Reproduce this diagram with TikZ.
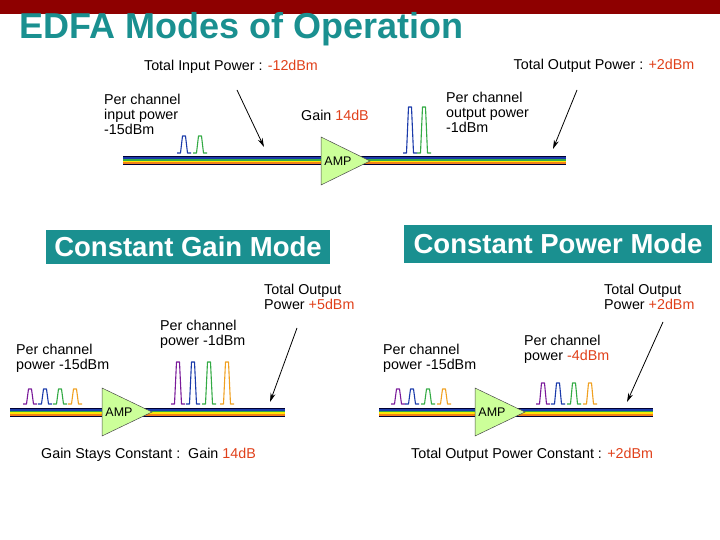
\documentclass[tikz,border=0pt]{standalone}
\usepackage{fontspec}
\setmainfont{Liberation Sans}
\usetikzlibrary{arrows.meta}
\definecolor{barred}{HTML}{8E0000}
\definecolor{teal1}{HTML}{1A9090}
\definecolor{valred}{HTML}{E0401A}
\definecolor{ampfill}{HTML}{CCFF99}
\definecolor{pk1}{HTML}{7A1A9A}
\definecolor{pk2}{HTML}{1A3AAA}
\definecolor{pk3}{HTML}{33AA44}
\definecolor{pk4}{HTML}{F0A020}
\tikzset{
 lbl/.style={font=\fontsize{14.3}{15}\selectfont, align=left, inner sep=0pt, anchor=north west},
 modebox/.style={fill=teal1, text=white, font=\bfseries\fontsize{27.5}{30}\selectfont, inner sep=0pt},
 ptr/.style={thick, -{Stealth[length=9pt,width=5pt]}},
 amp/.style={draw=black!70, fill=ampfill, line width=0.5pt},
}
\newcommand{\vr}[1]{\textcolor{valred}{#1}}
\newcommand{\fiber}[3]{% x1 x2 ycenter
 \fill[black!80!blue] (#1,#3-4.5) rectangle (#2,#3+4.5);
 \fill[pk2] (#1,#3-3.5) rectangle (#2,#3-1.5);
 \fill[pk3] (#1,#3-1.5) rectangle (#2,#3);
 \fill[yellow!90!orange] (#1,#3) rectangle (#2,#3+1.5);
 \fill[pk4!80!red] (#1,#3+1.5) rectangle (#2,#3+3.5);}
\newcommand{\peak}[4]{% x base h color
 \draw[#4, line width=1.1pt, line join=round] (#1-7,#2) -- (#1-3.5,#2) -- (#1-1.5,#2-#3) -- (#1+1.5,#2-#3) -- (#1+3.5,#2) -- (#1+7,#2);}
\newcommand{\ampl}[4]{% name x1 x2 ycenter
 \draw[amp] (#2,#4-24) -- (#3,#4) -- (#2,#4+24) -- cycle;
 \node[font=\fontsize{12.5}{14}\selectfont, inner sep=0pt] (#1) at (#2+17,#4) {AMP};}
\begin{document}
\begin{tikzpicture}[x=1pt,y=-1pt]
\useasboundingbox (0,0) rectangle (720,540);
\fill[barred] (0,0) rectangle (720,14);
\node[anchor=west, text=teal1, font=\bfseries\fontsize{36}{40}\selectfont, inner sep=0pt] (title) at (19,29) {EDFA Modes of Operation};

% top section
\node[lbl, anchor=center] (tin) at (231,67) {Total Input Power : \vr{-12dBm}};
\node[lbl, anchor=center] (tout) at (604,66) {Total Output Power : \vr{+2dBm}};
\node[lbl] (pcin) at (104,94) {Per channel\\input power\\-15dBm};
\node[lbl, anchor=center] (gain) at (335,115) {Gain \vr{14dB}};
\node[lbl] (pcout) at (446,92) {Per channel\\output power\\-1dBm};
\fiber{123}{566}{161}
\peak{184}{153}{17}{pk2}
\peak{200}{153}{17}{pk3}
\peak{410}{153}{46}{pk2}
\peak{424}{153}{46}{pk3}
\ampl{amptop}{321}{370}{161}
\coordinate (a1s) at (237,90); \coordinate (a1e) at (264,147);
\coordinate (a2s) at (577,90); \coordinate (a2e) at (553,149);
\draw[ptr] (a1s) -- (a1e);
\draw[ptr] (a2s) -- (a2e);

% mode boxes
\node[modebox, minimum width=284pt, minimum height=34pt] (cgm) at (188,247) {Constant Gain Mode};
\node[modebox, minimum width=308pt, minimum height=37pt] (cpm) at (558,244) {Constant Power Mode};

% bottom left
\node[lbl] (lto) at (264,284) {Total Output\\Power \vr{+5dBm}};
\node[lbl] (lpc1) at (160,320) {Per channel\\power -1dBm};
\node[lbl] (lpc15) at (16,344) {Per channel\\power -15dBm};
\fiber{10}{285}{412}
\peak{30}{404}{15}{pk1}
\peak{45}{404}{15}{pk2}
\peak{60}{404}{15}{pk3}
\peak{75}{404}{15}{pk4}
\peak{178}{404}{42}{pk1}
\peak{193}{404}{42}{pk2}
\peak{209}{404}{42}{pk3}
\peak{227}{404}{42}{pk4}
\ampl{ampl}{102}{152}{412}
\coordinate (a3s) at (297,328); \coordinate (a3e) at (270,402);
\draw[ptr] (a3s) -- (a3e);
\node[lbl, anchor=west] (gsc) at (41,455) {Gain Stays Constant :\ \ Gain \vr{14dB}};

% bottom right
\node[lbl] (rto) at (604,284) {Total Output\\Power \vr{+2dBm}};
\node[lbl] (rpc15) at (383,344) {Per channel\\power -15dBm};
\node[lbl] (rpc4) at (524,335) {Per channel\\power \vr{-4dBm}};
\fiber{379}{653}{412}
\peak{398}{404}{15}{pk1}
\peak{412}{404}{15}{pk2}
\peak{428}{404}{15}{pk3}
\peak{444}{404}{15}{pk4}
\peak{543}{404}{21}{pk1}
\peak{558}{404}{21}{pk2}
\peak{574}{404}{21}{pk3}
\peak{590}{404}{21}{pk4}
\ampl{ampr}{475}{525}{412}
\coordinate (a4s) at (663,322); \coordinate (a4e) at (627,402);
\draw[ptr] (a4s) -- (a4e);
\node[lbl, anchor=west] (tpc) at (411,455) {Total Output Power Constant : \vr{+2dBm}};
\end{tikzpicture}
\end{document}
